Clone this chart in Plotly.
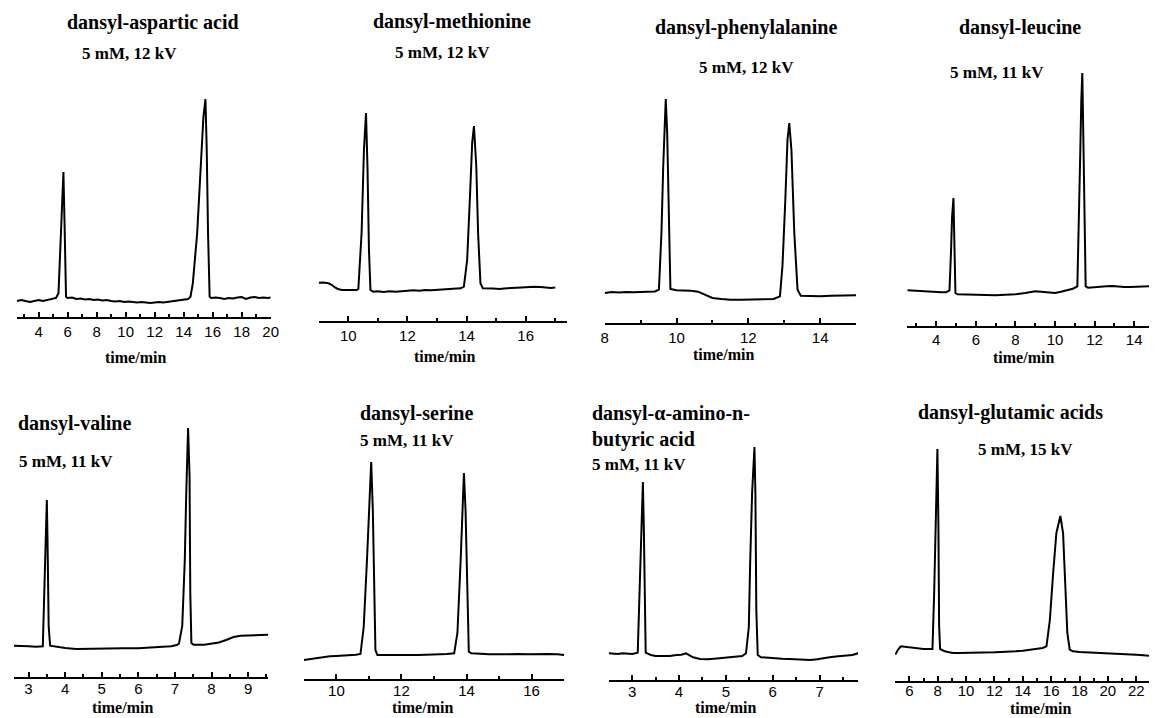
import plotly.graph_objects as go

W, H = 1157, 718

# ---- electropherograms: (migration time / min, detector signal / a.u.) ----
asp = [(2.5, 0), (2.8, 1), (3.1, 0), (3.4, -1), (3.7, 0), (4.0, 1), (4.3, 0), (4.6, 1), (4.9, 2),
       (5.2, 3), (5.37, 7.7), (5.52, 67.7), (5.61, 101), (5.71, 129), (5.80, 68), (5.89, 4.3),
       (6.0, 3), (6.3, 3.5), (6.6, 2), (6.9, 2.5), (7.2, 1.5), (7.5, 2), (7.8, 1), (8.1, 1.5),
       (8.4, 0.5), (8.7, 1), (9.0, 0), (9.3, -0.5), (9.6, 0), (9.9, -1), (10.2, -0.5), (10.5, -1),
       (10.8, -1.5), (11.1, -1), (11.4, -1.5), (11.7, -2), (12.0, -1.5), (12.3, -1), (12.6, -1.5),
       (12.9, -1), (13.2, -0.5), (13.5, 0), (13.8, 0.5), (14.1, 1), (14.3, 2), (14.47, 4.3),
       (14.63, 17.7), (14.93, 67.7), (15.20, 134), (15.36, 184), (15.50, 202), (15.59, 151),
       (15.68, 67.7), (15.79, 4.3), (15.9, 3), (16.2, 3.5), (16.5, 3), (16.8, 2), (17.1, 3),
       (17.4, 2.5), (17.7, 3.5), (18.0, 4), (18.3, 2), (18.6, 3.5), (18.9, 4), (19.2, 3),
       (19.5, 3.5), (19.8, 3), (20.0, 3.5)]

met = [(9.0, 7.3), (9.15, 7.5), (9.33, 6.7), (9.45, 5), (9.55, 2.5), (9.65, 1), (9.78, 0),
       (9.95, -0.3), (10.1, 0), (10.28, 0), (10.34, 1), (10.45, 56.7), (10.53, 140), (10.6, 177),
       (10.65, 123), (10.7, 40), (10.75, 0), (10.84, -1.7), (11.0, -1.3), (11.2, -2), (11.4, -1.3),
       (11.6, -1.7), (11.8, -1), (12.0, -1), (12.2, -0.3), (12.4, -0.7), (12.6, 0), (12.8, -0.3),
       (13.0, 0), (13.2, 0.3), (13.4, 0.7), (13.6, 1), (13.8, 1.7), (13.91, 3.3), (14.02, 30),
       (14.11, 90), (14.19, 147), (14.25, 164), (14.33, 123), (14.39, 57), (14.47, 6.7),
       (14.55, 1.7), (14.7, 1.3), (14.9, 1.5), (15.1, 1), (15.3, 1.7), (15.5, 2), (15.7, 2.3),
       (15.9, 2.7), (16.1, 3), (16.3, 3.3), (16.5, 3), (16.7, 2.3), (16.85, 2), (17.0, 2.5)]

phe = [(8.0, 0), (8.2, 1), (8.4, 0.5), (8.6, 1), (8.8, 0.7), (9.0, 1), (9.2, 1.3), (9.4, 1.5),
       (9.51, 3.3), (9.58, 60), (9.63, 127), (9.67, 177), (9.70, 194), (9.74, 160), (9.78, 77),
       (9.83, 4), (10.0, 2.7), (10.2, 2.7), (10.4, 2.3), (10.6, 1.3), (10.8, -1.7), (11.0, -5),
       (11.25, -6), (11.5, -6.7), (11.8, -6.7), (12.1, -6.3), (12.4, -6.3), (12.7, -6),
       (12.88, -3.3), (12.95, 27), (13.03, 93), (13.09, 153), (13.14, 170), (13.2, 143),
       (13.28, 60), (13.37, 3.3), (13.46, -2.7), (13.7, -3), (14.0, -3.3), (14.3, -2.7),
       (14.6, -2.7), (14.85, -2.3), (15.0, -2.3)]

leu = [(2.55, 1.7), (2.8, 1.3), (3.0, 1), (3.25, 1.3), (3.5, 0.7), (3.75, 0.3), (4.0, 0),
       (4.25, -0.3), (4.5, -0.3), (4.67, 1.7), (4.75, 42), (4.8, 75), (4.87, 94), (4.92, 58),
       (4.97, -1), (5.08, -2.3), (5.5, -2.3), (6.0, -2.7), (6.5, -3), (7.0, -3.3), (7.5, -3),
       (8.0, -2.3), (8.5, -1), (8.8, 0.3), (9.0, 0.7), (9.3, 0.3), (9.6, -0.3), (10.0, -1),
       (10.3, 0.3), (10.6, 1.7), (10.9, 3.3), (11.13, 5.7), (11.22, 75), (11.28, 142),
       (11.33, 192), (11.38, 219), (11.43, 158), (11.48, 75), (11.55, 5.7), (11.67, 4.3),
       (12.0, 5), (12.3, 5.3), (12.6, 5.7), (12.9, 6), (13.2, 5.3), (13.5, 5), (13.8, 5),
       (14.1, 5.3), (14.4, 5.7), (14.75, 5.7)]

val = [(2.6, 1.3), (2.8, 0.7), (3.0, 0.7), (3.2, 0.3), (3.39, 0.7), (3.43, 54), (3.47, 121),
       (3.5, 147), (3.52, 104), (3.55, 21), (3.59, 1.3), (3.8, 0), (4.0, -1), (4.3, -2),
       (4.6, -1.7), (5.0, -1.3), (5.3, -1), (5.6, -1.3), (6.0, -1.3), (6.3, -0.7), (6.6, 0),
       (6.9, 0.7), (7.05, 2), (7.11, 3.3), (7.2, 21), (7.27, 87), (7.31, 154), (7.36, 219),
       (7.4, 171), (7.42, 54), (7.45, 4), (7.51, 2.3), (7.8, 2.3), (8.0, 3.3), (8.2, 4.5),
       (8.4, 7), (8.6, 10), (8.8, 11.3), (9.0, 11.7), (9.2, 11.7), (9.4, 12), (9.55, 12.3)]

ser = [(9.0, -5), (9.2, -4), (9.4, -3), (9.6, -2), (9.8, -1.3), (10.0, -1), (10.2, -0.7),
       (10.4, -0.3), (10.6, 0.3), (10.74, 1), (10.84, 28), (10.94, 95), (11.02, 162),
       (11.07, 193), (11.12, 145), (11.16, 62), (11.2, 5), (11.26, 0), (11.5, 0), (11.75, -0.7),
       (12.0, -0.7), (12.25, -0.3), (12.5, 0), (12.75, 0.3), (13.0, 0.3), (13.2, 0.7),
       (13.4, 1), (13.62, 1.7), (13.72, 22), (13.82, 95), (13.88, 155), (13.92, 182),
       (13.97, 145), (14.02, 62), (14.07, 3.3), (14.15, 1.7), (14.4, 1), (14.7, 0.7),
       (15.0, 0.7), (15.3, 1), (15.6, 1), (15.9, 0.7), (16.2, 1), (16.5, 1), (16.8, 0.7),
       (17.0, 0)]

abu = [(2.5, 0.7), (2.6, 0.3), (2.7, 0), (2.8, 0.7), (2.9, 0.7), (3.0, 0), (3.12, 1.3),
       (3.16, 61), (3.2, 134), (3.23, 172), (3.25, 127), (3.27, 44), (3.29, 1.3), (3.4, -1),
       (3.5, -2), (3.65, -2), (3.8, -2), (3.95, -1), (4.05, -0.7), (4.15, 0.7), (4.22, -1.5),
       (4.3, -3.3), (4.45, -5), (4.6, -5.3), (4.75, -4.7), (4.9, -4), (5.05, -3.3), (5.2, -2.7),
       (5.35, -2), (5.43, 0.7), (5.49, 27), (5.52, 94), (5.56, 161), (5.61, 207), (5.63, 161),
       (5.65, 44), (5.68, -1), (5.75, -3.3), (5.9, -4), (6.05, -4.3), (6.2, -4.7), (6.35, -5),
       (6.5, -5.3), (6.65, -5.7), (6.8, -6), (6.95, -5.3), (7.1, -4), (7.25, -3), (7.4, -2.3),
       (7.55, -1.7), (7.7, -1), (7.82, 0.7)]

glu = [(5.0, -1.7), (5.1, 1), (5.2, 3.3), (5.4, 6.7), (5.6, 6.3), (5.8, 6), (6.1, 5.3),
       (6.4, 4.7), (6.7, 4.3), (7.0, 4), (7.3, 4), (7.5, 4), (7.63, 4), (7.75, 60), (7.86, 143),
       (7.98, 204), (8.05, 127), (8.1, 27), (8.17, 4), (8.5, 1.7), (8.8, 0.7), (9.1, 0),
       (9.5, 0), (10.0, 0), (10.5, 0.3), (11.0, 0.7), (11.5, 0.7), (12.0, 0.7), (12.5, 1),
       (13.0, 1), (13.5, 1.7), (14.0, 2.3), (14.5, 3), (15.0, 4), (15.4, 5), (15.67, 6.7),
       (15.91, 33), (16.14, 80), (16.37, 120), (16.65, 137), (16.84, 120), (17.0, 67),
       (17.14, 20), (17.31, 3.3), (17.54, 1.7), (18.0, 1), (18.5, 0.7), (19.0, 0.7), (19.5, 0.3),
       (20.0, 0), (20.5, -0.3), (21.0, -0.7), (21.5, -1), (22.0, -1.7), (22.5, -2.3),
       (22.9, -2.7)]

names = ["dansyl-aspartic acid", "dansyl-methionine", "dansyl-phenylalanine", "dansyl-leucine",
         "dansyl-valine", "dansyl-serine", "dansyl-α-amino-n-<br>butyric acid",
         "dansyl-glutamic acids"]
conditions = ["5 mM, 12 kV", "5 mM, 12 kV", "5 mM, 12 kV", "5 mM, 11 kV",
              "5 mM, 11 kV", "5 mM, 11 kV", "5 mM, 11 kV", "5 mM, 15 kV"]
traces = [asp, met, phe, leu, val, ser, abu, glu]
x_ranges = [[2.5, 20], [9, 17.4], [8, 15], [2.5, 14.75],
            [2.6, 9.55], [9, 17], [2.5, 7.82], [5, 22.9]]
label_step = [2, 2, 2, 2, 1, 2, 1, 2]
minor_step = [1, 1, 1, 1, 0.5, 1, 0.5, 1]

# ---- panel geometry in pixels ----
frames = [  # x_left, x_right, axis line y, baseline y, top y
    (13, 269.5, 317, 301, 60),
    (318, 569, 321, 290, 60),
    (607, 861, 323, 293, 60),
    (912, 1157, 326, 292, 60),
    (10, 267, 677, 647, 400),
    (303, 566, 679, 655, 400),
    (611, 863, 680, 654, 400),
    (900.5, 1157, 681, 653, 400),
]
label_shift = [0, 0, 0, -1, -3, -3, -3, -5]

# text placement: (x, y, anchor) for title, condition and axis caption
title_pos = [(151, 23, "center"), (453, 21, "center"), (750, 28, "center"), (1027, 28, "center"),
             (12, 423, "left"), (417, 413, "center"), (592, 426, "left"), (1017, 412, "center")]
cond_pos = [(127, 53, "center"), (443, 52, "center"), (750, 67, "center"), (1003, 72, "center"),
            (13, 461, "left"), (407, 440, "center"), (592, 464, "left"), (1032, 449, "center")]
cap_pos = [(133, 357), (445, 356), (727, 354), (1030, 357),
           (120, 707), (423, 707), (729, 707), (1047, 708)]


def px(x):
    return x / W


def py(y):
    return 1 - y / H


SERIF = "Liberation Serif, Times New Roman, serif"
SANS = "Liberation Sans, Arial, sans-serif"

fig = go.Figure()
layout = dict(
    width=W, height=H, margin=dict(l=0, r=0, t=0, b=0),
    paper_bgcolor="white", plot_bgcolor="white", showlegend=False,
)
annotations = []

for i, (pts, fr) in enumerate(zip(traces, frames)):
    k = "" if i == 0 else str(i + 1)
    xl, xr, ay, by, ty = fr
    t = [p[0] for p in pts]
    s = [p[1] for p in pts]
    fig.add_trace(go.Scatter(x=t, y=s, mode="lines", xaxis="x" + k, yaxis="y" + k,
                             line=dict(color="black", width=2), hoverinfo="x+y"))
    layout["xaxis" + k] = dict(
        domain=[px(xl), px(xr)], anchor="y" + k, range=x_ranges[i],
        showline=True, linecolor="black", linewidth=2,
        ticks="inside", ticklen=5, tickwidth=1.5, tickcolor="black",
        dtick=label_step[i], tick0=0, ticklabelstandoff=label_shift[i],
        minor=dict(dtick=minor_step[i], ticks="inside", ticklen=3, tickwidth=1.5,
                   tickcolor="black", showgrid=False),
        showgrid=False, zeroline=False,
        tickfont=dict(family=SANS, size=15, color="black"),
    )
    layout["yaxis" + k] = dict(
        domain=[py(ay), py(ty)], anchor="x" + k,
        range=[-(ay - by), by - ty], visible=False,
    )
    tx, tyy, anc = title_pos[i]
    annotations.append(dict(text="<b>" + names[i] + "</b>", x=px(tx), y=py(tyy),
                            xref="paper", yref="paper", xanchor=anc, yanchor="middle",
                            align="left", showarrow=False,
                            font=dict(family=SERIF, size=20, color="black")))
    cx, cy, canc = cond_pos[i]
    annotations.append(dict(text="<b>" + conditions[i] + "</b>", x=px(cx), y=py(cy),
                            xref="paper", yref="paper", xanchor=canc, yanchor="middle",
                            showarrow=False, font=dict(family=SERIF, size=17, color="black")))
    ux, uy = cap_pos[i]
    annotations.append(dict(text="<b>time/min</b>", x=px(ux), y=py(uy),
                            xref="paper", yref="paper", xanchor="center", yanchor="middle",
                            showarrow=False, font=dict(family=SERIF, size=16, color="black")))

layout["annotations"] = annotations
fig.update_layout(**layout)
fig.write_html("out.html")
